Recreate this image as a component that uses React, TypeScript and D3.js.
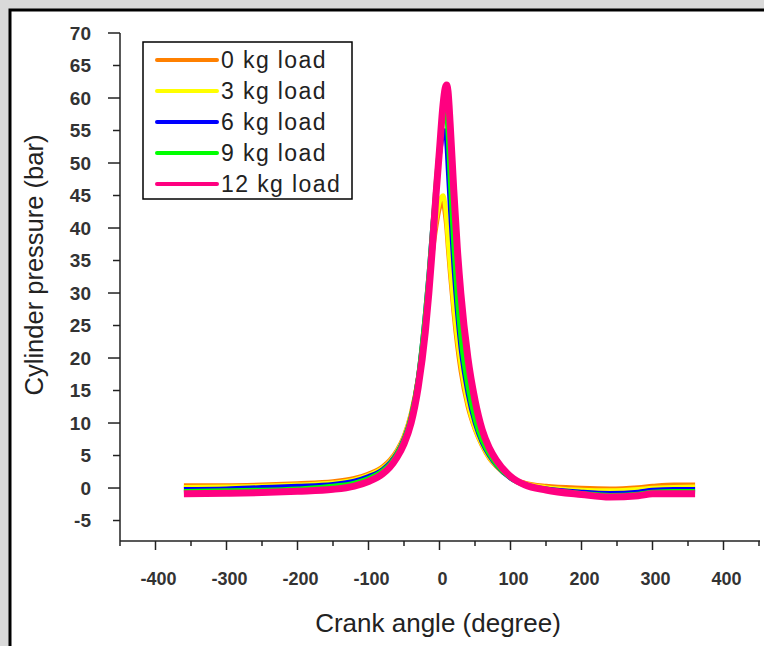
import React from 'react';
import * as d3 from 'd3';

// crank angle samples (degree)
const angles = [-360, -300, -250, -200, -150, -120, -100, -80, -70, -60, -50, -40, -30, -20, -15, -10, -5, 0, 5, 8, 10, 12, 15, 20, 25, 30, 40, 50, 60, 70, 80, 100, 120, 150, 200, 240, 280, 300, 330, 360];

// cylinder pressure (bar) per load
const load0 = [0.4, 0.4, 0.5, 0.7, 1.0, 1.5, 2.2, 3.3, 4.3, 5.8, 8, 11.5, 17, 26, 31, 36, 40, 43, 44, 42, 40, 37, 33, 27, 22, 18, 12.5, 9, 6.5, 4.6, 3.3, 1.6, 0.8, 0.3, 0.0, -0.1, 0.1, 0.3, 0.5, 0.5];
const load3 = [0.1, 0.2, 0.3, 0.5, 0.8, 1.3, 2.0, 3.1, 4.1, 5.6, 7.8, 11.3, 17, 26, 31, 37, 41, 44, 45, 43.5, 41, 38, 34, 28, 23, 19, 13, 9.2, 6.6, 4.7, 3.4, 1.6, 0.7, 0.1, -0.3, -0.4, -0.2, 0.0, 0.1, 0.2];
const load6 = [-0.2, -0.1, 0.1, 0.3, 0.6, 1.1, 1.8, 2.9, 3.9, 5.4, 7.6, 11, 17, 27, 33, 40, 46, 51, 54.5, 55, 53, 49, 43, 34, 27, 21.5, 14.5, 10, 7, 5, 3.5, 1.5, 0.5, -0.1, -0.6, -0.8, -0.6, -0.3, -0.2, -0.2];
const load9 = [-0.5, -0.4, -0.3, -0.1, 0.3, 0.8, 1.5, 2.7, 3.7, 5.3, 7.5, 11, 17, 27, 33, 40, 47, 53, 58, 59, 57.5, 54, 47, 37, 29, 23, 15.5, 10.5, 7.3, 5.2, 3.6, 1.5, 0.4, -0.2, -0.8, -1.1, -0.9, -0.6, -0.5, -0.5];
const load12 = [-0.9, -0.8, -0.7, -0.5, -0.2, 0.3, 1.0, 2.2, 3.2, 4.7, 6.8, 10, 15.5, 24, 30, 37, 45, 52, 59, 61.5, 62, 61, 56, 46, 37, 30, 20, 13.5, 9, 6.2, 4.3, 1.8, 0.5, -0.3, -1.0, -1.4, -1.2, -0.9, -0.9, -0.9];

const seriesNames = ['0 kg load', '3 kg load', '6 kg load', '9 kg load', '12 kg load'];
const seriesValues = [load0, load3, load6, load9, load12];
const seriesColors = ['#ff8000', '#ffff00', '#0000ff', '#00ff00', '#ff0080'];

const xTicks = [-400, -300, -200, -100, 0, 100, 200, 300, 400];
const yTicks = [70, 65, 60, 55, 50, 45, 40, 35, 30, 25, 20, 15, 10, 5, 0, -5];

const W = 764;
const H = 646;

const App = () => {
  const x = d3.scaleLinear().domain([-450, 450]).range([120, 759]);
  const y = d3.scaleLinear().domain([-8.15, 70]).range([541, 33]);

  const line = d3.line<number>()
    .x((_, i) => x(angles[i]))
    .y(d => y(d))
    .curve(d3.curveMonotoneX);

  const minorX = d3.range(-450, 451, 50);
  const font = "'Liberation Sans', Arial, sans-serif";

  return (
    <svg width={W} height={H} style={{ position: 'absolute', left: 0, top: 0 }}>
      <rect x={0} y={0} width={W} height={H} fill="#d9d9d9" />
      <rect x={10} y={10} width={W + 20} height={H + 20} fill="#fff" stroke="#000" strokeWidth={3} />

      {/* y axis */}
      <line x1={120} x2={120} y1={y(70)} y2={541} stroke="#222" strokeWidth={1.5} />
      {yTicks.map(t => (
        <g key={t}>
          <line x1={t % 10 === 0 ? 108 : 113} x2={120} y1={y(t)} y2={y(t)} stroke="#222" strokeWidth={1.5} />
          <text x={91} y={y(t)} dy="0.36em" textAnchor="end" fontFamily={font} fontSize={19} fontWeight="bold" fill="#333">{t}</text>
        </g>
      ))}

      {/* x axis */}
      <line x1={120} x2={760} y1={541} y2={541} stroke="#222" strokeWidth={1.5} />
      {minorX.map(t => (
        <line key={t} x1={x(t)} x2={x(t)} y1={541} y2={t % 100 === 0 ? 550 : 546} stroke="#222" strokeWidth={1.5} />
      ))}
      {xTicks.map(t => (
        <text key={t} x={x(t) + 3} y={585} textAnchor="middle" fontFamily={font} fontSize={18} fontWeight="bold" fill="#333">{t}</text>
      ))}

      <text x={438} y={632} textAnchor="middle" fontFamily={font} fontSize={26} fill="#222">Crank angle (degree)</text>
      <text transform="translate(43, 265) rotate(-90)" textAnchor="middle" fontFamily={font} fontSize={25.5} fill="#222">Cylinder pressure (bar)</text>

      {/* traces */}
      {seriesValues.map((vals, i) => (
        <path key={seriesNames[i]} d={line(vals) || ''} fill="none" stroke={seriesColors[i]}
          strokeWidth={i === 4 ? 7 : 4.5} strokeLinecap="butt" strokeLinejoin="round" />
      ))}

      {/* legend */}
      <rect x={143} y={42} width={209} height={157} fill="#fff" stroke="#000" strokeWidth={1.5} />
      {seriesNames.map((name, i) => (
        <g key={name}>
          <line x1={157} x2={217} y1={60 + i * 31} y2={60 + i * 31} stroke={seriesColors[i]} strokeWidth={4} strokeLinecap="round" />
          <text x={221} y={60 + i * 31} dy="0.35em" fontFamily={font} fontSize={23} letterSpacing={1.4} fill="#222">{name}</text>
        </g>
      ))}
    </svg>
  );
};

export default App;
